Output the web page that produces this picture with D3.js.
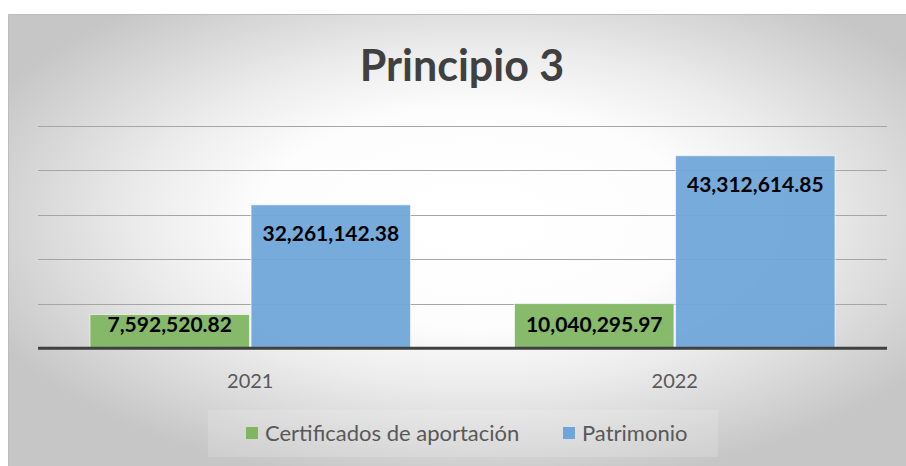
<!DOCTYPE html>
<html>
<head>
<meta charset="utf-8">
<script src="https://cdn.jsdelivr.net/npm/d3@7"></script>
<style>
  html, body { margin: 0; padding: 0; background: #ffffff; }
  svg { display: block; }
</style>
</head>
<body>
<div id="chart"></div>
<script>
// Data
const years = ["2021", "2022"];
const seriesNames = ["Certificados de aportación", "Patrimonio"];
const certificados = [7592520.82, 10040295.97];
const patrimonio = [32261142.38, 43312614.85];
const yTicks = [0, 10000000, 20000000, 30000000, 40000000, 50000000];

const seriesColors = ["#80b661", "#6fa6da"];

// Dimensions
const width = 906;
const height = 466;
const plot = { left: 38, right: 887, top: 126, bottom: 348.3 };

const svg = d3.select("#chart")
  .append("svg")
  .attr("width", width)
  .attr("height", height);

// Background gradient (light centre, grey edges)
const defs = svg.append("defs");
const grad = defs.append("radialGradient")
  .attr("id", "bg")
  .attr("cx", "0.52").attr("cy", "0.45")
  .attr("r", "0.6");
[[0, "#ffffff"], [0.4, "#fdfdfd"], [0.62, "#ececec"], [0.82, "#d8d8d8"], [1, "#c6c6c6"]]
  .forEach(s => grad.append("stop").attr("offset", s[0]).attr("stop-color", s[1]));

svg.append("rect")
  .attr("x", 8.5).attr("y", 14.5)
  .attr("width", width - 8).attr("height", height - 14)
  .attr("fill", "url(#bg)")
  .attr("stroke", "#bdbdbd")
  .attr("stroke-width", 1);

// Scales
const x0 = d3.scaleBand()
  .domain(years)
  .range([plot.left, plot.right]);

const x1 = d3.scaleBand()
  .domain(seriesNames)
  .range([52, x0.bandwidth() - 52])
  .paddingInner(0.01);

const y = d3.scaleLinear()
  .domain([0, 50000000])
  .range([plot.bottom, plot.top]);

// Gridlines
svg.append("g")
  .selectAll("line")
  .data(yTicks.slice(1))
  .enter().append("line")
  .attr("x1", plot.left).attr("x2", plot.right)
  .attr("y1", d => Math.round(y(d)) + 0.5)
  .attr("y2", d => Math.round(y(d)) + 0.5)
  .attr("stroke", "#a6a6a6")
  .attr("stroke-width", 1);

// Bars
const rows = years.map((yr, i) => ({
  year: yr,
  values: [certificados[i], patrimonio[i]]
}));

const groups = svg.append("g")
  .selectAll("g")
  .data(rows)
  .enter().append("g")
  .attr("transform", d => `translate(${x0(d.year)},0)`);

groups.selectAll("rect")
  .data(d => d.values.map((v, j) => ({ name: seriesNames[j], value: v, j: j })))
  .enter().append("rect")
  .attr("x", d => x1(d.name))
  .attr("y", d => y(d.value))
  .attr("width", x1.bandwidth())
  .attr("height", d => y(0) - y(d.value))
  .attr("fill", d => seriesColors[d.j])
  .attr("fill-opacity", 0.94)
  .attr("stroke", "#ffffff")
  .attr("stroke-opacity", 0.6)
  .attr("stroke-width", 1);

// Value labels
const fmt = d3.format(",.2f");
groups.selectAll("text")
  .data(d => d.values.map((v, j) => ({ name: seriesNames[j], value: v })))
  .enter().append("text")
  .attr("x", d => x1(d.name) + x1.bandwidth() / 2)
  .attr("y", d => Math.min(y(d.value) + 36, y(0) - 16.6))
  .attr("text-anchor", "middle")
  .style("font-family", "Lato, 'Open Sans', sans-serif")
  .style("font-weight", "bold")
  .style("font-size", "21px")
  .style("fill", "#000000")
  .text(d => fmt(d.value));

// Axis baseline
svg.append("line")
  .attr("x1", plot.left).attr("x2", plot.right)
  .attr("y1", y(0)).attr("y2", y(0))
  .attr("stroke", "#404040")
  .attr("stroke-width", 3);

// Category labels
svg.append("g")
  .selectAll("text")
  .data(years)
  .enter().append("text")
  .attr("x", d => x0(d) + x0.bandwidth() / 2)
  .attr("y", 388)
  .attr("text-anchor", "middle")
  .style("font-family", "Lato, 'Open Sans', sans-serif")
  .style("font-size", "20px")
  .style("fill", "#595959")
  .text(d => d);

// Title
svg.append("text")
  .attr("x", 462)
  .attr("y", 81)
  .attr("text-anchor", "middle")
  .style("font-family", "Lato, 'Open Sans', sans-serif")
  .style("font-weight", "bold")
  .style("font-size", "43px")
  .style("fill", "#404040")
  .text("Principio 3");

// Legend
svg.append("rect")
  .attr("x", 208).attr("y", 410)
  .attr("width", 510).attr("height", 47)
  .attr("fill", "#ffffff")
  .attr("fill-opacity", 0.15);

const legendX = [246, 563];
const legend = svg.append("g")
  .selectAll("g")
  .data(seriesNames)
  .enter().append("g")
  .attr("transform", (d, i) => `translate(${legendX[i]}, 433)`);

legend.append("rect")
  .attr("x", 0)
  .attr("y", -6)
  .attr("width", 12)
  .attr("height", 12)
  .attr("fill", (d, i) => seriesColors[i]);

legend.append("text")
  .attr("x", 19)
  .attr("y", 0)
  .attr("dy", "0.36em")
  .style("font-family", "Lato, 'Open Sans', sans-serif")
  .style("font-size", "22px")
  .style("fill", "#595959")
  .text(d => d);
</script>
</body>
</html>
